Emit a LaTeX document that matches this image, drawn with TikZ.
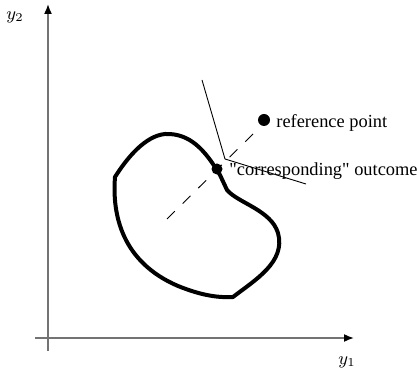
\documentclass[tikz,border=0pt]{standalone}
\usepackage{fontspec}
\setmainfont{Liberation Serif}[Ligatures=TeXOff]
\usetikzlibrary{arrows.meta}
\begin{document}
\begin{tikzpicture}[x=0.5pt,y=-0.5pt,
  axis/.style={draw=black!55,line width=0.8pt,-{Latex[length=5pt,width=4pt,black]}},
  blob/.style={line width=2pt},
  thinline/.style={line width=0.45pt},
  dashline/.style={line width=0.45pt,dash pattern=on 5.5pt off 5.5pt},
  dot/.style={circle,fill=black,inner sep=0pt,minimum size=5.5pt},
  lbl/.style={inner sep=0pt,font=\fontsize{9.2}{11}\selectfont},
  axlbl/.style={inner sep=0pt,font=\fontsize{9.2}{11}\selectfont}]
\useasboundingbox (0,0) rectangle (417,373);
% axes
\coordinate (o1) at (35,338);
\coordinate (x1) at (354,338);
\coordinate (o2) at (48,351);
\coordinate (x2) at (48,4);
\draw[axis] (o1) -- (x1);
\draw[axis] (o2) -- (x2);
\node[axlbl] (ly1) at (347,362) {$y_1$};
\node[axlbl] (ly2) at (15,17) {$y_2$};
% blob
\draw[blob,line join=round] (233,297) .. controls (255,280) and (286,262) .. (278,233)
  .. controls (271,210) and (238,203) .. (227,190) -- (220,175)
  .. controls (205,150) and (190,133) .. (165,134)
  .. controls (145,136) and (127,158) .. (115,177)
  .. controls (112,215) and (122,262) .. (178,286)
  .. controls (198,294) and (215,298) .. (233,297) -- cycle;
% dashed line
\coordinate (d1) at (167,219);
\coordinate (d2) at (253,134);
\draw[dashline] (d1) -- (d2);
% cone
\coordinate (apex) at (225,159);
\coordinate (c1) at (202,80);
\coordinate (c2) at (306,184);
\draw[thinline] (c1) -- (apex) -- (c2);
% points
\node[dot] (cp) at (217,169) {};
\node[dot,minimum size=6pt] (rp) at (264,120) {};
\node[lbl,anchor=base west] (lrp) at (276,127.5) {reference point};
\node[lbl,anchor=base west] (lcp) at (229,176) {"corresponding" outcome};
\end{tikzpicture}
\end{document}
